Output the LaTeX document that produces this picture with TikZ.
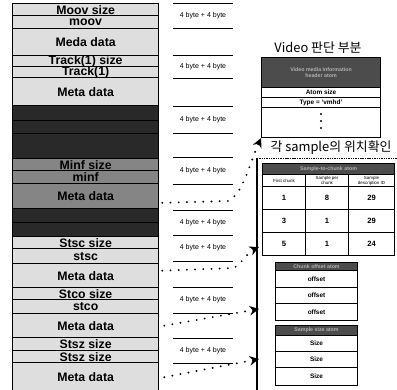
\documentclass[tikz,border=0pt]{standalone}
\usepackage{fontspec}
\setmainfont{Liberation Sans}
\newfontfamily\kofont{Noto Sans CJK KR}
\usetikzlibrary{arrows.meta, positioning}

\definecolor{lightrow}{gray}{0.87}
\definecolor{midrow}{gray}{0.52}
\definecolor{darkrow}{gray}{0.16}
\definecolor{headgray}{gray}{0.3}

\tikzset{
  colrow/.style={draw=black, line width=1.1pt, inner sep=0pt, minimum width=4.38cm,
    anchor=north west, font=\bfseries\fontsize{10.5}{10.5}\selectfont},
  bytelbl/.style={font=\fontsize{6}{6}\selectfont},
  byteline/.style={line width=0.8pt},
  boxrow/.style={draw=black, line width=0.9pt, inner sep=0pt, anchor=north west,
    align=center, font=\bfseries\fontsize{5.5}{6}\selectfont},
  headrow/.style={boxrow, fill=headgray, text=gray!60, font=\bfseries\fontsize{4.5}{5}\selectfont},
  dotline/.style={line width=1.8pt, dash pattern=on 0pt off 7pt, line cap=round},
  bigtip/.style={-{Stealth[length=8pt,width=8pt]}}
}

\begin{document}
\begin{tikzpicture}[x=0.03cm, y=-0.03cm]
  \useasboundingbox (0,0) rectangle (397,389);

  % left column of atoms
  \foreach \nm/\ya/\yb/\fc/\txt in {
      moovsz/3/15/lightrow/{Moov size},
      moov/15/28/lightrow/{moov},
      meda/28/55/lightrow/{Meda data},
      trksz/55/66/lightrow/{Track(1) size},
      trk/66/77/lightrow/{Track(1)},
      trkmeta/77/105/lightrow/{Meta data},
      dka/105/120/darkrow/{},
      dkb/120/133/darkrow/{},
      dkc/133/158/darkrow/{},
      minfsz/158/170/midrow/{Minf size},
      minf/170/183/midrow/{minf},
      minfmeta/183/208/midrow/{Meta data},
      dkd/208/222/darkrow/{},
      dke/222/236/darkrow/{},
      stscsz/236/248/lightrow/{Stsc size},
      stsc/248/263/lightrow/{stsc},
      stscmeta/263/287/lightrow/{Meta data},
      stcosz/287/299/lightrow/{Stco size},
      stco/299/313/lightrow/{stco},
      stcometa/313/337/lightrow/{Meta data},
      stszsz/337/350/lightrow/{Stsz size},
      stsz/350/362/lightrow/{Stsz size},
      stszmeta/362/391/lightrow/{Meta data}}
    \node[colrow, fill=\fc, minimum height={(\yb-\ya)*0.03cm}] (\nm) at (12,\ya) {\txt};

  % size + type fields
  \foreach \nm/\ya/\yb in {ba/3/28, bb/55/78, bc/106/133, bd/157/184,
                           be/210/235, bf/235/261, bg/287/313, bh/338/363} {
    \draw[byteline] (173,\ya) -- (233,\ya);
    \draw[byteline] (173,\yb) -- (233,\yb);
    \node[bytelbl] (\nm) at (203,{(\ya+\yb)/2}) {4 byte + 4 byte};
  }

  % video media header box
  \node[font=\kofont\fontsize{11}{11}\selectfont] (vtitle) at (318,48) {Video 판단 부분};
  \node[headrow, minimum width=119*0.03cm, minimum height=30*0.03cm] (vhead) at (261,57)
    {Video media information\\header atom};
  \node[boxrow, minimum width=119*0.03cm, minimum height=10*0.03cm] (vatom) at (261,87) {Atom size};
  \node[boxrow, minimum width=119*0.03cm, minimum height=10*0.03cm] (vtype) at (261,97) {Type = `vmhd'};
  \node[boxrow, minimum width=119*0.03cm, minimum height=30*0.03cm] (vrest) at (261,107) {};
  \foreach \y in {114,121,128}
    \fill ([yshift=-\y*0.03cm+107*0.03cm]vrest.north) circle (1.1);

  % sample to chunk table
  \node[font=\kofont\fontsize{11}{11}\selectfont] (ktitle) at (331,148) {각 sample의 위치확인};
  \coordinate (railtop) at (257,158);
  \coordinate (railbot) at (257,391);
  \draw[line width=0.6pt, dash pattern=on 1.2pt off 0.8pt] (railtop) -- (397,158);
  \draw[line width=1.1pt] (railtop) -- (railbot);
  \node[headrow, minimum width=132*0.03cm, minimum height=11*0.03cm] (thead) at (262,163)
    {Sample-to-chunk atom};
  \node[boxrow, minimum width=43*0.03cm, minimum height=12*0.03cm, font=\fontsize{3.8}{4}\selectfont]
    (th1) at (262,174) {First chunk};
  \node[boxrow, minimum width=43*0.03cm, minimum height=12*0.03cm, font=\fontsize{3.8}{4}\selectfont]
    (th2) at (305,174) {Sample per\\chunk};
  \node[boxrow, minimum width=46*0.03cm, minimum height=12*0.03cm, font=\fontsize{3.8}{4}\selectfont]
    (th3) at (348,174) {Sample\\description ID};
  \foreach \r/\y/\a/\b/\c in {1/186/1/8/29, 2/209/3/1/29, 3/232/5/1/24} {
    \node[boxrow, minimum width=43*0.03cm, minimum height=23*0.03cm, font=\bfseries\fontsize{6.5}{7}\selectfont]
      (ta\r) at (262,\y) {\a};
    \node[boxrow, minimum width=43*0.03cm, minimum height=23*0.03cm, font=\bfseries\fontsize{6.5}{7}\selectfont]
      (tb\r) at (305,\y) {\b};
    \node[boxrow, minimum width=46*0.03cm, minimum height=23*0.03cm, font=\bfseries\fontsize{6.5}{7}\selectfont]
      (tc\r) at (348,\y) {\c};
  }

  % chunk offset box
  \node[headrow, minimum width=82*0.03cm, minimum height=8*0.03cm] (cohead) at (275,262) {Chunk offset atom};
  \foreach \r/\y/\h in {1/270/17, 2/287/16, 3/303/17}
    \node[boxrow, minimum width=82*0.03cm, minimum height=\h*0.03cm] (co\r) at (275,\y) {offset};

  % sample size box
  \node[headrow, minimum width=82*0.03cm, minimum height=10*0.03cm] (szhead) at (275,325) {Sample size atom};
  \foreach \r/\y/\h in {1/335/16, 2/351/16, 3/367/18}
    \node[boxrow, minimum width=82*0.03cm, minimum height=\h*0.03cm] (sz\r) at (275,\y) {Size};

  % dotted pointers
  \coordinate (tipA) at (259,247);
  \coordinate (tipB) at (259,309);
  \coordinate (tipC) at (259,359);
  \draw[dotline, bigtip] ([xshift=0.09cm, yshift=-0.2cm]minfmeta.east) -- (228,201)
    .. controls (243,194) and (249,165) .. (vrest.south west);
  \draw[dotline, bigtip] ([xshift=0.09cm, yshift=0.15cm]stscmeta.east) -- (234,268)
    .. controls (243,262) and (248,252) .. (tipA);
  \draw[dotline, bigtip] ([xshift=0.15cm]stcometa.east) -- (tipB);
  \draw[dotline, bigtip] ([xshift=0.15cm]stszmeta.east) -- (tipC);
\end{tikzpicture}
\end{document}
